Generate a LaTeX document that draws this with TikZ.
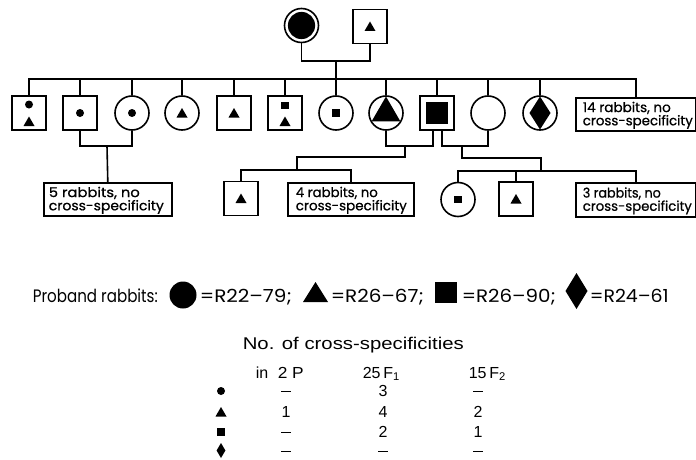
\documentclass[tikz,border=0pt]{standalone}
\usepackage{fontspec}
\usepackage{graphicx}
\setmainfont{Poppins}
\newfontfamily\boxfont[FakeBold=0.8]{Poppins}
\newfontfamily\tabfont{Liberation Sans}
\usetikzlibrary{calc}
\newcommand\fw[2]{\resizebox{#1pt}{\height}{#2}}
\newcommand\tdash{\raisebox{4pt}{\rule{10pt}{1.5pt}}}
\begin{document}
\begin{tikzpicture}[x=1pt,y=-1pt,line width=1.6pt,
  male/.style={draw,rectangle,minimum size=34pt,inner sep=0pt},
  female/.style={draw,circle,minimum size=34pt,inner sep=0pt},
  infobox/.style={draw,rectangle,anchor=north west,inner sep=0pt},
  boxtxt/.style={anchor=north west,inner sep=0pt,align=left,font=\boxfont\fontsize{13.5}{10.8}\selectfont},
  legtxt/.style={anchor=base west,inner sep=0pt,font=\fontsize{18}{20}\selectfont},
  tabtitle/.style={anchor=base west,inner sep=0pt,font=\tabfont\fontsize{17}{19}\selectfont},
  tabtxt/.style={anchor=base,inner sep=0pt,font=\tabfont\fontsize{16}{18}\selectfont},
  ptri/.pic={\fill (0,-5) -- (5.5,4.5) -- (-5.5,4.5) -- cycle;},
  pdot/.pic={\fill (0,0) circle (4pt);},
  psq/.pic={\fill (-3.8,-3.8) rectangle (3.8,3.8);},
  pdia/.pic={\fill (0,-7.5) -- (4.4,0) -- (0,7.5) -- (-4.4,0) -- cycle;},
]
\useasboundingbox (0,0) rectangle (696,460);

% parents
\node[female] (P1) at (301.5,25.5) {};
\fill (P1.center) circle (13.6pt);
\node[male] (P2) at (370,26.5) {};
\pic at (P2.center) {ptri};

% children
\node[male] (c1) at (29,113) {};
\pic at (29,104.5) {pdot};
\pic at (29,121.5) {ptri};
\node[male] (c2) at (80,113) {};
\pic at (c2.center) {pdot};
\node[female] (c3) at (132,113) {};
\pic at (c3.center) {pdot};
\node[female] (c4) at (182,113) {};
\pic at (c4.center) {ptri};
\node[male] (c5) at (234,113) {};
\pic at (c5.center) {ptri};
\node[male] (c6) at (285,113) {};
\pic at (285,105.5) {psq};
\pic at (285,121.5) {ptri};
\node[female] (c7) at (336,113) {};
\pic at (c7.center) {psq};
\node[female] (c8) at (386,113) {};
\fill ($(c8.center)+(0,-16.5)$) -- ($(c8.center)+(14.3,8.25)$) -- ($(c8.center)+(-14.3,8.25)$) -- cycle;
\node[male] (c9) at (437,113) {};
\fill ($(c9.center)+(-11,-11)$) rectangle ($(c9.center)+(11,11)$);
\node[female] (c10) at (488,113) {};
\node[female] (c11) at (540,113) {};
\fill ($(c11.center)+(0,-16.5)$) -- ($(c11.center)+(10.5,0)$) -- ($(c11.center)+(0,16.5)$) -- ($(c11.center)+(-10.5,0)$) -- cycle;
\node[infobox,minimum width=120pt,minimum height=33pt] (b14) at (575,97) {};
\node[boxtxt] (b14t) at (582,101) {\fw{88}{14 rabbits, no}\\\fw{110}{cross-specificity}};

% grandchildren
\node[infobox,minimum width=128pt,minimum height=33pt] (b5) at (43,182) {};
\node[boxtxt] (b5t) at (48,186) {\fw{91}{5 rabbits, no}\\\fw{115}{cross-specificity}};
\node[male] (g1) at (241,198.5) {};
\pic at (g1.center) {ptri};
\node[infobox,minimum width=126pt,minimum height=33pt] (b4) at (287,182) {};
\node[boxtxt] (b4t) at (295,186) {\fw{82}{4 rabbits, no}\\\fw{111}{cross-specificity}};
\node[female] (g3) at (458,199.5) {};
\pic at (g3.center) {psq};
\node[male] (g4) at (516,199) {};
\pic at (g4.center) {ptri};
\node[infobox,minimum width=120pt,minimum height=34pt] (b3) at (575,182) {};
\node[boxtxt] (b3t) at (582,186.5) {\fw{78}{3 rabbits, no}\\\fw{109}{cross-specificity}};

% connectors
\coordinate (pm) at (336,61);
\coordinate (sib) at (336,79);
\draw (P1.south) |- (pm) -| (P2.south);
\draw (pm) -- (sib);
\draw (c1.north) |- (sib) -| (b14.north);
\foreach \c in {c2,c3,c4,c5,c6,c7,c8,c9,c10,c11}
  \draw (\c.north) -- (\c.north |- sib);

\coordinate (m1) at (107,146);
\draw (c2.south) |- (m1) -| (c3.south);
\draw (m1) -- (b5.north);

\coordinate (c9a) at ([xshift=-4pt]c9.south);
\coordinate (c9b) at ([xshift=5pt]c9.south);
\coordinate (m2) at (405,146);
\coordinate (m2b) at (405,157);
\coordinate (s2) at (297,170);
\draw (c8.south) |- (m2) -| (c9a);
\draw (m2) -- (m2b) -| (s2);
\draw (g1.north) |- (s2) -| (b4.north);

\coordinate (m3) at (462,146);
\coordinate (m3b) at (462,158);
\coordinate (s3) at (541,171);
\draw (c9b) |- (m3) -| (c10.south);
\draw (m3) -- (m3b) -| (s3);
\draw (g3.north) |- (s3) -| (b3.north);
\draw (g4.north) -- (g4.north |- s3);

% legend
\node[legtxt] (lg0) at (32,302) {\fw{125}{Proband rabbits:}};
\node[circle,fill,minimum size=27pt,inner sep=0pt] (lgc) at (183,295) {};
\node[legtxt] (lg1) at (199,302) {\fw{92}{=R22–79;}};
\fill (315.5,282) -- (328,302) -- (303,302) -- cycle;
\node[legtxt] (lg2) at (330,302) {\fw{93}{=R26–67;}};
\fill (435,282) rectangle (457,303);
\node[legtxt] (lg3) at (461,302) {\fw{94}{=R26–90;}};
\fill (576.5,273) -- (587.5,291) -- (576.5,309) -- (565.5,291) -- cycle;
\node[legtxt] (lg4) at (589,302) {\fw{79}{=R24–61}};

% table
\node[tabtitle] (tt) at (242,349) {\fw{221}{No. of cross-specificities}};
\node[tabtxt,anchor=base west] (th0) at (255,378) {in};
\node[tabtxt,anchor=base west] (th1) at (277,378) {\fw{26}{2 P}};
\node[tabtxt,anchor=base west] (th2) at (362,378) {25\,F\textsubscript{1}};
\node[tabtxt,anchor=base west] (th3) at (468,378) {15\,F\textsubscript{2}};

\pic at (221,391) {pdot};
\pic at (221,412) {ptri};
\pic at (221,432) {psq};
\pic at (221,450.5) {pdia};

\node[tabtxt] (r1a) at (286,396) {\tdash};
\node[tabtxt] (r1b) at (383,396) {3};
\node[tabtxt] (r1c) at (478,396) {\tdash};
\node[tabtxt] (r2a) at (286,417) {1};
\node[tabtxt] (r2b) at (383,417) {4};
\node[tabtxt] (r2c) at (478,417) {2};
\node[tabtxt] (r3a) at (286,437) {\tdash};
\node[tabtxt] (r3b) at (383,437) {2};
\node[tabtxt] (r3c) at (478,437) {1};
\node[tabtxt] (r4a) at (286,456) {\tdash};
\node[tabtxt] (r4b) at (383,456) {\tdash};
\node[tabtxt] (r4c) at (478,456) {\tdash};
\end{tikzpicture}
\end{document}
